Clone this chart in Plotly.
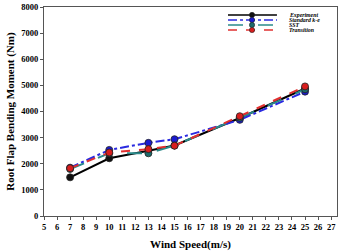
import plotly.graph_objects as go

wind = [7, 10, 13, 15, 20, 25]
experiment = [1480, 2210, 2500, 2700, 3750, 4880]
standard_ke = [1850, 2530, 2800, 2940, 3680, 4760]
sst = [1800, 2400, 2400, 2700, 3760, 4850]
transition = [1830, 2430, 2560, 2690, 3820, 4960]

names = ["Experiment", "Standard k-e", "SST", "Transition"]
line_colors = ["#000000", "#2a2ae0", "#2a8a8a", "#e03030"]
marker_colors = ["#111111", "#1a1ad0", "#1d6b6b", "#d81e1e"]
dashes = ["solid", "dashdot", "longdash", "dash"]
series = [experiment, standard_ke, sst, transition]

FONT = "Liberation Serif"
fig = go.Figure()
for name, ys, lc, mc, d in zip(names, series, line_colors, marker_colors, dashes):
    fig.add_trace(go.Scatter(
        x=wind, y=ys, mode="lines+markers", name=name,
        line=dict(color=lc, width=2, dash=d),
        marker=dict(symbol="circle", size=7, color=mc, line=dict(color="#222", width=0.8)),
        showlegend=False,
    ))

# manual compact legend
rows_y = [0.962, 0.938, 0.914, 0.890]
shapes = []
annotations = []
for name, ry, lc, mc, d in zip(names, rows_y, line_colors, marker_colors, dashes):
    shapes.append(dict(type="line", xref="paper", yref="paper", x0=0.628, x1=0.795, y0=ry, y1=ry,
                       line=dict(color=lc, width=1.6, dash=d)))
    shapes.append(dict(type="circle", xref="paper", yref="paper", xsizemode="pixel", ysizemode="pixel",
                       xanchor=0.71, yanchor=ry, x0=-2.6, x1=2.6, y0=-2.6, y1=2.6,
                       fillcolor=mc, line=dict(color="#222", width=0.6)))
    annotations.append(dict(xref="paper", yref="paper", x=0.829, y=ry, text="<b><i>%s</i></b>" % name,
                            showarrow=False, xanchor="left", yanchor="middle",
                            font=dict(family=FONT, size=5.8, color="#000")))

fig.update_layout(
    width=339, height=251,
    margin=dict(l=44, r=2, t=7, b=35),
    paper_bgcolor="white", plot_bgcolor="white",
    font=dict(family=FONT, color="#000"),
    shapes=shapes, annotations=annotations,
    xaxis=dict(range=[5, 27.45], tickmode="linear", tick0=5, dtick=1,
               showline=True, linecolor="#555", linewidth=1.2, mirror=True,
               ticks="outside", ticklen=3, tickcolor="#555", showgrid=False, zeroline=False,
               tickfont=dict(family=FONT, size=8.5, color="#000"),
               tickprefix="<b>", ticksuffix="</b>",
               title=dict(text="<b>Wind Speed(m/s)</b>", font=dict(family=FONT, size=11, color="#000"),
                          standoff=10)),
    yaxis=dict(range=[0, 8000], tickmode="linear", tick0=0, dtick=1000,
               showline=True, linecolor="#555", linewidth=1.2, mirror=True,
               ticks="outside", ticklen=3, tickcolor="#555", showgrid=False, zeroline=False,
               tickfont=dict(family=FONT, size=8.5, color="#000"),
               tickprefix="<b>", ticksuffix="</b>",
               title=dict(text="<b>Root Flap Bending Moment (Nm)</b>", font=dict(family=FONT, size=11, color="#000"),
                          standoff=4)),
)
fig.write_html("out.html")
